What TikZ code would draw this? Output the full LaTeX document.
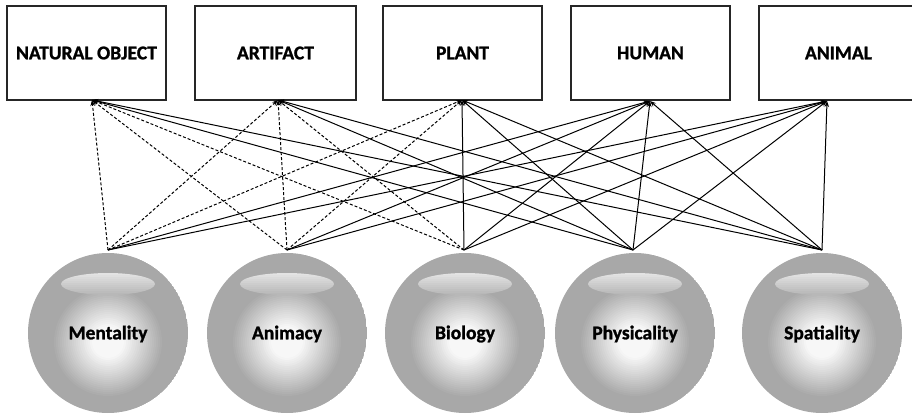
\documentclass[tikz,border=0pt]{standalone}
\usepackage{fontspec}
\setmainfont{Carlito}[BoldFeatures={FakeBold=1.2}]
\usetikzlibrary{arrows.meta}
\colorlet{sphgray}{white!66!black}
\tikzset{
  catbox/.style={draw=black!85, line width=1.6pt, minimum width=159pt, minimum height=94pt, inner sep=0pt, font=\bfseries\fontsize{19.5}{21}\selectfont},
  sphtext/.style={font=\bfseries\fontsize{19.5}{21}\selectfont, inner sep=0pt},
  link/.style={draw=black, line width=1pt, -{Stealth[length=6pt,width=4.5pt]}},
  dlink/.style={link, dash pattern=on 3pt off 2pt},
}
\begin{document}
\begin{tikzpicture}[x=1pt,y=-1pt]
\useasboundingbox (0,0) rectangle (912,417);
% boxes
\node[catbox] (no) at (86.5,53) {NATURAL OBJECT};
\node[catbox, minimum width=161pt] (art) at (275.5,53) {ARTIFACT};
\node[catbox] (pl) at (462.5,53) {PLANT};
\node[catbox] (hu) at (650.5,53) {HUMAN};
\node[catbox] (an) at (838.5,53) {ANIMAL};
% arrow targets at box bottoms
\coordinate (noB) at (92,100);
\coordinate (artB) at (278,100);
\coordinate (plB) at (462,100);
\coordinate (huB) at (650,101);
\coordinate (anB) at (827,101);
% spheres: stepped radial glow and a top highlight
\foreach \cx in {108,287,465,635,822}{
  \begin{scope}
    \clip (\cx,333) circle (80);
    \fill[sphgray] (\cx,333) circle (80);
    \foreach \r in {56,54,...,2}{
      \pgfmathsetmacro{\pct}{min(97,66+31*(56-\r)/40)}
      \fill[white!\pct!black] (\cx,342) circle (\r);
    }
    \begin{scope}
      \clip (\cx,284) ellipse (47 and 11);
      \foreach \i in {0,...,11}{
        \pgfmathsetmacro{\hp}{89-1.7*\i}
        \fill[white!\hp!black] (\cx-50,273+2*\i) rectangle (\cx+50,275.2+2*\i);
      }
    \end{scope}
  \end{scope}
}
\foreach \n/\cx/\txt in {me/108/Mentality, am/287/Animacy, bi/465/Biology, ph/635/Physicality, sp/822/Spatiality}{
  \node[sphtext] (\n) at (\cx,334) {\txt};
}
\coordinate (meT) at (108,250);
\coordinate (amT) at (287,250);
\coordinate (biT) at (464,250);
\coordinate (phT) at (633,250);
\coordinate (spT) at (822,250);
% dashed links
\foreach \s in {meT,amT,biT}{
  \draw[dlink] (\s) -- (noB);
  \draw[dlink] (\s) -- (artB);
}
\draw[dlink] (meT) -- (plB);
\draw[dlink] (amT) -- (plB);
% solid links
\draw[link] (biT) -- (plB);
\foreach \s in {phT,spT}{
  \draw[link] (\s) -- (noB);
  \draw[link] (\s) -- (artB);
  \draw[link] (\s) -- (plB);
}
\foreach \s in {meT,amT,biT,phT,spT}{
  \draw[link] (\s) -- (huB);
  \draw[link] (\s) -- (anB);
}
\end{tikzpicture}
\end{document}
